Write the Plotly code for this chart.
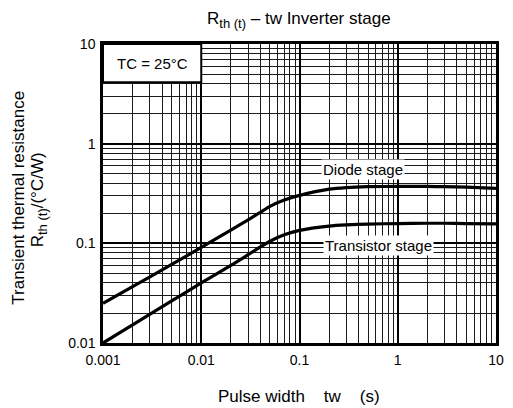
import plotly.graph_objects as go

# Pulse width tw (s)
tw = [0.001, 0.002, 0.005, 0.01, 0.02, 0.03, 0.04, 0.05, 0.07, 0.1, 0.2, 0.3, 0.5, 1, 2, 3, 5, 10]
# Transient thermal resistance (°C/W)
diode = [0.025, 0.0368, 0.0614, 0.091, 0.136, 0.172, 0.205, 0.235, 0.272, 0.303, 0.35, 0.363, 0.37, 0.373, 0.372, 0.37, 0.366, 0.356]
transistor = [0.01, 0.0152, 0.0264, 0.040, 0.060, 0.0770, 0.0920, 0.105, 0.122, 0.135, 0.149, 0.153, 0.156, 0.158, 0.159, 0.159, 0.158, 0.157]

x_tickvals = [0.001, 0.01, 0.1, 1, 10]
x_ticktext = ["0.001", "0.01", "0.1", "1", "10"]
y_tickvals = [0.01, 0.1, 1, 10]
y_ticktext = ["0.01", "0.1", "1", "10"]

FONT = "Arial, Liberation Sans, sans-serif"

x_minor = [m * 10.0 ** e for e in range(-3, 1) for m in range(2, 10)]
y_minor = [m * 10.0 ** e for e in range(-2, 1) for m in range(2, 10)]

SUB = "<sub><span style='font-size:13px'>th (t)</span></sub>"

fig = go.Figure()
fig.add_trace(go.Scatter(x=tw, y=diode, mode="lines", line=dict(color="black", width=3.2, shape="spline", smoothing=0.6), showlegend=False))
fig.add_trace(go.Scatter(x=tw, y=transistor, mode="lines", line=dict(color="black", width=3.2, shape="spline", smoothing=0.6), showlegend=False))

axis_common = dict(
    type="log", showgrid=True, gridcolor="black", gridwidth=2,
    showline=True, linecolor="black", linewidth=2.5, mirror=True,
    ticks="", zeroline=False,
    tickfont=dict(family=FONT, size=14, color="black"),
)

fig.update_xaxes(range=[-3, 1], tickvals=x_tickvals, ticktext=x_ticktext,
                 minor=dict(tickvals=x_minor, showgrid=True, gridcolor="#1a1a1a", gridwidth=1, ticks=""),
                 ticklabelstandoff=2, **axis_common)
fig.update_yaxes(range=[-2, 1], tickvals=y_tickvals, ticktext=y_ticktext,
                 minor=dict(tickvals=y_minor, showgrid=True, gridcolor="#1a1a1a", gridwidth=1, ticks=""),
                 ticklabelstandoff=2, **axis_common)

fig.update_layout(
    width=513, height=408,
    margin=dict(l=103, r=9, t=44, b=65),
    paper_bgcolor="white", plot_bgcolor="white",
    font=dict(family=FONT, color="black"),
    shapes=[dict(type="rect", xref="paper", yref="paper", x0=0, x1=0.25, y0=0.872, y1=1,
                 fillcolor="white", line=dict(color="black", width=2), layer="above")],
    annotations=[
        dict(text="R" + SUB + " – tw Inverter stage", xref="paper", yref="paper",
             x=(303 - 103) / 401, y=(343 - 20) / 299, xanchor="center", yanchor="middle",
             showarrow=False, font=dict(size=17)),
        dict(text="TC = 25°C", xref="paper", yref="paper", x=0.125, y=(343 - 64) / 299,
             xanchor="center", yanchor="middle", showarrow=False, font=dict(size=15)),
        dict(text="Diode stage", xref="paper", yref="paper", x=0.662, y=0.579,
             xanchor="center", yanchor="middle", showarrow=False, font=dict(size=15),
             bgcolor="white", borderpad=1),
        dict(text="Transistor stage", xref="paper", yref="paper", x=0.702, y=0.325,
             xanchor="center", yanchor="middle", showarrow=False, font=dict(size=15),
             bgcolor="white", borderpad=1),
        dict(text="Transient thermal resistance", xref="paper", yref="paper",
             x=(16 - 103) / 401, y=(343 - 198) / 299, xanchor="center", yanchor="middle",
             textangle=-90, showarrow=False, font=dict(size=17)),
        dict(text="R" + SUB + "/(°C/W)", xref="paper", yref="paper",
             x=(38 - 103) / 401, y=(343 - 200) / 299, xanchor="center", yanchor="middle",
             textangle=-90, showarrow=False, font=dict(size=17)),
        dict(text="Pulse width    tw    (s)", xref="paper", yref="paper",
             x=(303 - 103) / 401, y=(343 - 396) / 299, xanchor="center", yanchor="middle",
             showarrow=False, font=dict(size=17)),
    ],
)

fig.write_html("out.html", config={"displayModeBar": False},
               post_script="document.body.style.margin='0';document.body.style.overflow='hidden';")
